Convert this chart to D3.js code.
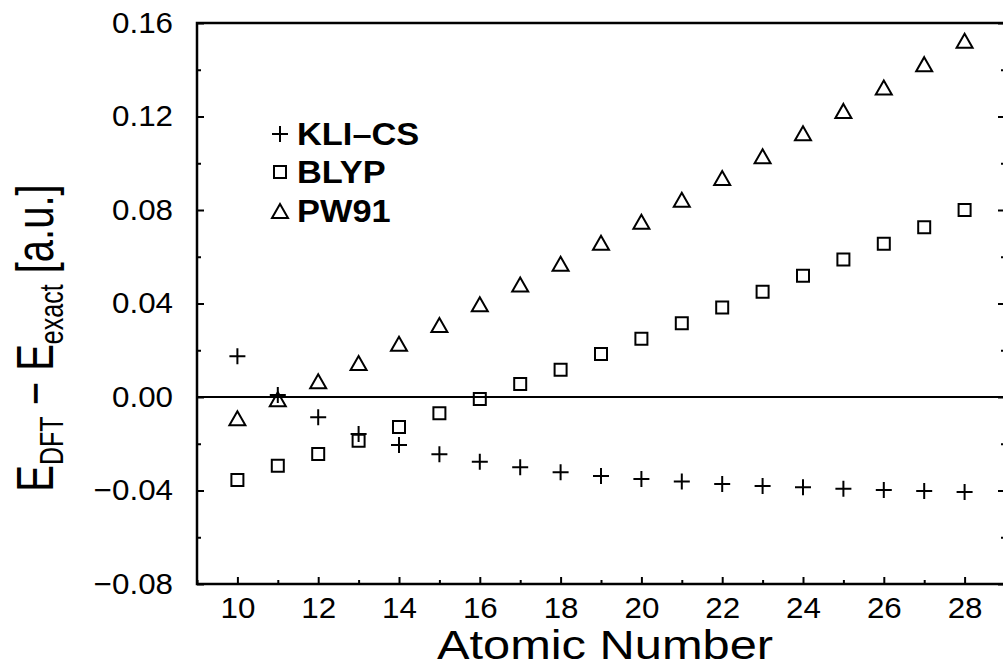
<!DOCTYPE html>
<html>
<head>
<meta charset="utf-8">
<script src="https://cdn.jsdelivr.net/npm/d3@7"></script>
<style>
  html, body { margin: 0; padding: 0; background: #fff; }
  svg { display: block; }
  text { font-family: "Liberation Sans", Arial, Helvetica, sans-serif; fill: #000; }
</style>
</head>
<body>
<svg id="chart" width="1003" height="666"></svg>
<script>
// ---- data ----
const atomicNumbers = [10, 11, 12, 13, 14, 15, 16, 17, 18, 19, 20, 21, 22, 23, 24, 25, 26, 27, 28];
const kliCS = [0.0174, 0.0009, -0.0087, -0.0158, -0.0205, -0.0245, -0.0277, -0.0301, -0.0322, -0.0338, -0.0351, -0.0362, -0.0372, -0.0381, -0.0386, -0.0392, -0.0398, -0.0402, -0.0406];
const blyp = [-0.0355, -0.0294, -0.0244, -0.0187, -0.0128, -0.0070, -0.0009, 0.0056, 0.0117, 0.0184, 0.0249, 0.0315, 0.0383, 0.0450, 0.0519, 0.0588, 0.0656, 0.0726, 0.0800];
const pw91 = [-0.0091, -0.0010, 0.0067, 0.0145, 0.0228, 0.0308, 0.0397, 0.0481, 0.0570, 0.0660, 0.0750, 0.0844, 0.0937, 0.1030, 0.1128, 0.1224, 0.1324, 0.1424, 0.1524];
const seriesNames = ["KLI\u2013CS", "BLYP", "PW91"];
const xMajorTicks = [10, 12, 14, 16, 18, 20, 22, 24, 26, 28];
const xMinorTicks = [9, 11, 13, 15, 17, 19, 21, 23, 25, 27, 29];
const yMajorTicks = [-0.08, -0.04, 0.00, 0.04, 0.08, 0.12, 0.16];
const yMinorTicks = [-0.06, -0.02, 0.02, 0.06, 0.10, 0.14];
const xTitle = "Atomic Number";

// ---- layout ----
const L = 197, R = 1005, T = 23, B = 584;
const K = 1.08; // horizontal stretch of tick glyphs
const svg = d3.select("#chart");
const x = d3.scaleLinear().domain([9, 29]).range([L, R]);
const y = d3.scaleLinear().domain([-0.08, 0.16]).range([B, T]);

const fmtY = v => (v < 0 ? "\u2212" : "") + Math.abs(v).toFixed(2);

svg.append("g").attr("transform", `translate(0,${B})`)
  .call(d3.axisBottom(x).tickValues(xMajorTicks).tickSize(-7).tickPadding(13).tickFormat(d3.format("d")));
svg.append("g").attr("transform", `translate(0,${B})`)
  .call(d3.axisBottom(x).tickValues(xMinorTicks).tickSize(-4).tickFormat(""));
const gy = svg.append("g").attr("transform", `translate(${L},0)`)
  .call(d3.axisLeft(y).tickValues(yMajorTicks).tickSize(-7).tickPadding(24).tickFormat(fmtY));
svg.append("g").attr("transform", `translate(${L},0)`)
  .call(d3.axisLeft(y).tickValues(yMinorTicks).tickSize(-4).tickFormat(""));
svg.append("g").attr("transform", `translate(${R},0)`)
  .call(d3.axisRight(y).tickValues(yMajorTicks).tickSize(-7).tickFormat(""));
svg.append("g").attr("transform", `translate(${R},0)`)
  .call(d3.axisRight(y).tickValues(yMinorTicks).tickSize(-4).tickFormat(""));

svg.selectAll(".domain").remove();
svg.selectAll(".tick line").attr("stroke", "#000").attr("stroke-width", 2);
svg.selectAll(".tick text").style("font-size", "29px").attr("fill", "#000")
  .attr("transform", `scale(${K},1)`);
gy.selectAll(".tick text").attr("x", -24 / K);

// frame
svg.append("rect").attr("x", L).attr("y", T).attr("width", R - L).attr("height", B - T)
  .attr("fill", "none").attr("stroke", "#000").attr("stroke-width", 2.5);

// zero line
svg.append("line").attr("x1", L).attr("x2", R).attr("y1", y(0)).attr("y2", y(0))
  .attr("stroke", "#000").attr("stroke-width", 2);

// markers
const plusPath = "M-8,0H8M0,-8V8";
const squarePath = "M-6,-6H6V6H-6Z";
const triPath = "M0,-7L8,7H-8Z";
const paths = [plusPath, squarePath, triPath];
const allSeries = [kliCS, blyp, pw91];

allSeries.forEach((vals, si) => {
  svg.append("g").selectAll("path").data(atomicNumbers)
    .join("path")
    .attr("d", paths[si])
    .attr("transform", (d, i) => `translate(${x(d)},${y(vals[i])})`)
    .attr("fill", "none").attr("stroke", "#000").attr("stroke-width", 2);
});

// legend
const legendRows = [134, 172, 211];
seriesNames.forEach((name, i) => {
  svg.append("path").attr("d", paths[i])
    .attr("transform", `translate(280,${legendRows[i]})`)
    .attr("fill", "none").attr("stroke", "#000").attr("stroke-width", 2);
  svg.append("text").attr("transform", `translate(297,${legendRows[i]}) scale(1.11,1)`)
    .attr("dy", "0.36em")
    .style("font-size", "31px").style("font-weight", "bold").text(name);
});

// x title
svg.append("text").attr("transform", `translate(${(L + R) / 2 + 4},659) scale(1.22,1)`)
  .attr("text-anchor", "middle")
  .style("font-size", "40px").text(xTitle);

// y title
const yt = svg.append("text").attr("transform", "translate(53,338) scale(1.3,1) rotate(-90)")
  .attr("text-anchor", "middle").style("font-size", "40px");
yt.append("tspan").text("E");
yt.append("tspan").attr("dy", 8).style("font-size", "25px").text("DFT");
yt.append("tspan").attr("dy", -8).text(" \u2212 E");
yt.append("tspan").attr("dy", 8).style("font-size", "25px").text("exact");
yt.append("tspan").attr("dy", -8).text(" [a.u.]");
</script>
</body>
</html>
